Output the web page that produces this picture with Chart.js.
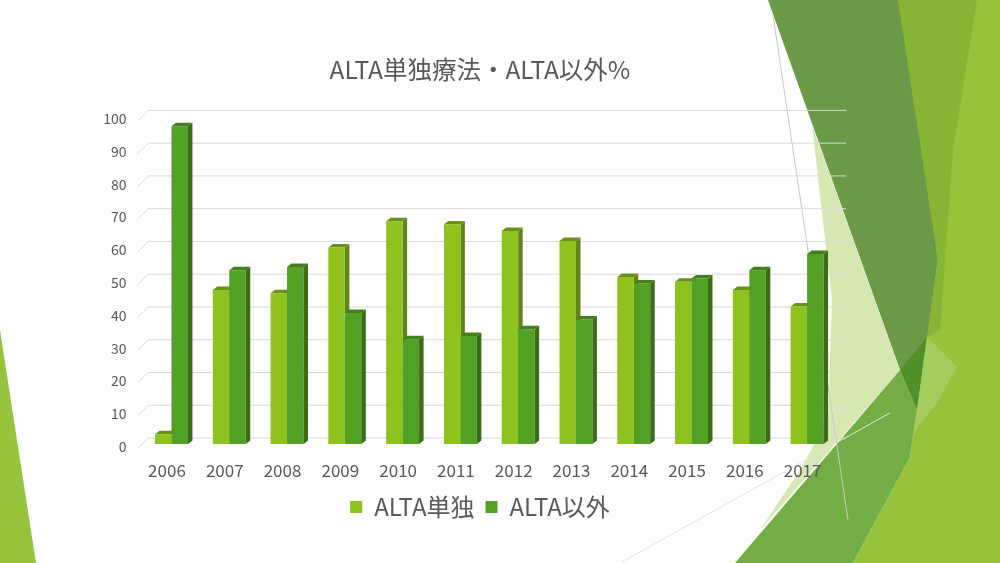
<!DOCTYPE html>
<html>
<head>
<meta charset="utf-8">
<script src="https://cdn.jsdelivr.net/npm/chart.js@4.4.0/dist/chart.umd.min.js"></script>
<style>
  html, body { margin: 0; padding: 0; background: #fff; }
  #wrap { position: relative; width: 1000px; height: 563px; overflow: hidden; }
  #bg, #myChart { position: absolute; left: 0; top: 0; }
</style>
</head>
<body>
<div id="wrap">
<svg id="bg" width="1000" height="563" viewBox="0 0 1000 563">
  <polygon points="0,330 36,563 0,563" fill="#97c43d"/>
  <polygon points="890,0 1000,0 1000,563 853,563 910,457 917,410 938,260" fill="#95c43a"/>
  <polygon points="898,0 977,0 953,150 940,330 927,337 938,260" fill="#86b534"/>
  <polygon points="768,0 898,0 938,260 917,410 900,370" fill="#6b9a48"/>
  <polygon points="900,370 927,337 917,410" fill="#4f9128"/>
  <polygon points="812,125 900,370 760,530 800,470 828,420 832,300" fill="#d5e8b2"/>
  <polygon points="735,563 900,370 917,410 910,457 853,563" fill="#73ad46"/>
  <polygon points="927,337 957,367 937,403 913,433 917,410" fill="#a3cd5c"/>
  <line x1="773" y1="15" x2="848" y2="520" stroke="#c8c8c8" stroke-width="1"/>
  <line x1="620" y1="563" x2="890" y2="413" stroke="#e4e4e4" stroke-width="1"/>
</svg>
<canvas id="myChart" width="1000" height="563"></canvas>
</div>
<script>
const years = ["2006", "2007", "2008", "2009", "2010", "2011", "2012", "2013", "2014", "2015", "2016", "2017"]
const altaOnly = [3, 47, 46, 60, 68, 67, 65, 62, 51, 49.5, 47, 42]
const altaOther = [97, 53, 54, 40, 32, 33, 35, 38, 49, 50.5, 53, 58]
const seriesNames = ["ALTA単独", "ALTA以外"]

const textColor = "#595959"
const fontFamily = "'Noto Sans CJK JP', 'Noto Sans', sans-serif"
// front / side / top colours for the fake 3D bars
const faceColors = [
    { front: "#8dc21f", side: "#5f8518", top: "#6b901a" },
    { front: "#52a024", side: "#3a6d16", top: "#44801d" }
]
const depth = { dx: 4.5, dy: 3.5 }

function drawFaces(ctx, bar, c) {
    const left = bar.x - bar.width / 2
    const right = bar.x + bar.width / 2
    const top = bar.y
    const base = bar.base
    ctx.fillStyle = c.side
    ctx.beginPath()
    ctx.moveTo(right, top)
    ctx.lineTo(right + depth.dx, top - depth.dy)
    ctx.lineTo(right + depth.dx, base - depth.dy)
    ctx.lineTo(right, base)
    ctx.closePath()
    ctx.fill()
    ctx.fillStyle = c.top
    ctx.beginPath()
    ctx.moveTo(left, top)
    ctx.lineTo(left + depth.dx, top - depth.dy)
    ctx.lineTo(right + depth.dx, top - depth.dy)
    ctx.lineTo(right, top)
    ctx.closePath()
    ctx.fill()
}

const wallPlugin = {
    id: "wall3d",
    beforeDatasetsDraw(chart) {
        const ctx = chart.ctx
        const y = chart.scales.y
        const area = chart.chartArea
        ctx.save()
        ctx.strokeStyle = "#d9d9d9"
        ctx.lineWidth = 1
        y.ticks.forEach(t => {
            const py = y.getPixelForValue(t.value)
            ctx.beginPath()
            ctx.moveTo(area.left - 5, py + 4.5)
            ctx.lineTo(area.left + 5.7, py - 6)
            ctx.lineTo(area.right + 10, py - 6)
            ctx.stroke()
        })
        // side/top of the first series goes under the second series
        chart.getDatasetMeta(0).data.forEach(bar => drawFaces(ctx, bar, faceColors[0]))
        ctx.restore()
    },
    afterDatasetsDraw(chart) {
        const ctx = chart.ctx
        ctx.save()
        chart.getDatasetMeta(1).data.forEach(bar => drawFaces(ctx, bar, faceColors[1]))
        ctx.restore()
    }
}

var chartField = document.querySelector("#myChart").getContext("2d")

var myChart = new Chart(chartField, {
    type: "bar",
    data: {
        labels: years,
        datasets: [{
            label: seriesNames[0],
            data: altaOnly,
            backgroundColor: faceColors[0].front,
            categoryPercentage: 0.57,
            barPercentage: 1
        }, {
            label: seriesNames[1],
            data: altaOther,
            backgroundColor: faceColors[1].front,
            categoryPercentage: 0.57,
            barPercentage: 1
        }]
    },
    plugins: [wallPlugin],
    options: {
        responsive: false,
        animation: false,
        layout: { padding: { left: 0, right: 40, top: 0, bottom: 34 } },
        plugins: {
            title: {
                display: true,
                text: "ALTA単独療法・ALTA以外%",
                color: textColor,
                font: { family: fontFamily, size: 24.5, weight: "normal" },
                padding: { top: 55, bottom: 32 }
            },
            legend: {
                position: "bottom",
                labels: {
                    boxWidth: 12,
                    boxHeight: 12,
                    color: textColor,
                    padding: 11,
                    font: { family: fontFamily, size: 24 }
                }
            },
            tooltip: { enabled: false }
        },
        scales: {
            x: {
                grid: { display: false },
                border: { display: false },
                ticks: {
                    color: textColor,
                    font: { family: fontFamily, size: 17 },
                    padding: 8,
                    labelOffset: -4.5,
                    maxRotation: 0
                },
                afterFit: s => { s.height = 40 }
            },
            y: {
                min: 0,
                max: 100,
                grid: { display: false, drawTicks: false },
                border: { display: false },
                ticks: {
                    stepSize: 10,
                    color: textColor,
                    font: { family: fontFamily, size: 14 },
                    padding: 16,
                    labelOffset: 2.5
                },
                afterFit: s => { s.width = 142.6 }
            },
            y2: {
                position: "right",
                grid: { display: false },
                border: { display: false },
                ticks: { display: false },
                afterFit: s => { s.width = 124 }
            }
        }
    }
})
</script>
</body>
</html>
